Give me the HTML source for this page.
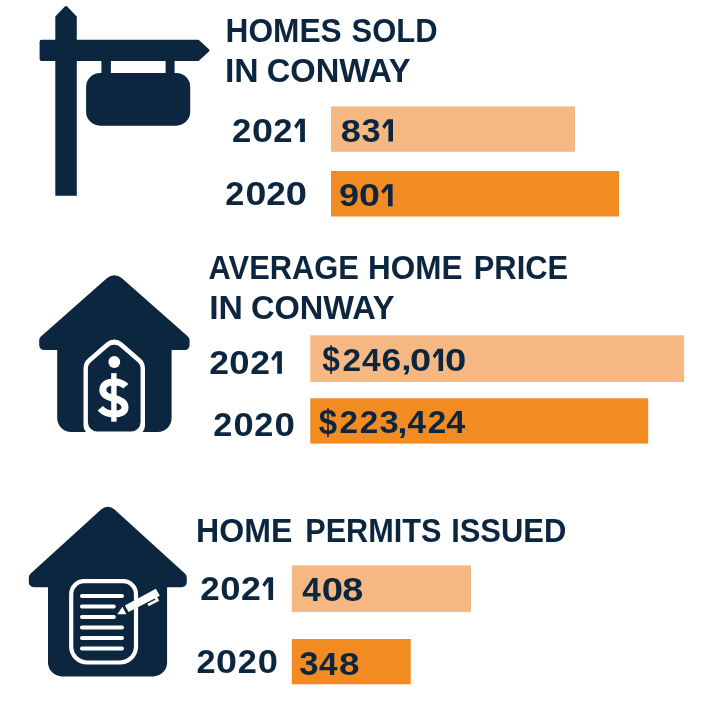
<!DOCTYPE html>
<html><head><meta charset="utf-8"><style>
html,body{margin:0;padding:0;background:#fff;width:707px;height:707px;overflow:hidden}
svg{display:block;will-change:transform}
text{font-family:"Liberation Sans",sans-serif;font-weight:bold}
</style></head><body>
<svg width="707" height="707" viewBox="0 0 707 707">
<path d="M55.30,195.80 L55.30,16.90 A1,1 0 0 1 55.57,16.21 L64.55,6.73 A2,2 0 0 1 67.45,6.72 L76.52,16.21 A1,1 0 0 1 76.80,16.90 L76.80,195.80 Z" fill="#0c263f"/>
<path d="M39.60,41.70 A2,2 0 0 1 41.60,39.70 L198.21,39.70 A1,1 0 0 1 198.89,39.96 L208.99,49.19 A1.5,1.5 0 0 1 208.99,51.41 L198.89,60.64 A1,1 0 0 1 198.21,60.90 L41.60,60.90 A2,2 0 0 1 39.60,58.90 Z" fill="#0c263f"/>
<rect x="101.4" y="60" width="9.5" height="14" fill="#0c263f"/>
<rect x="165.6" y="60" width="9" height="14" fill="#0c263f"/>
<rect x="86.1" y="73" width="104.1" height="52.7" rx="14" fill="#0c263f"/>
<rect x="331" y="106.4" width="244" height="45.4" fill="#f5b883"/>
<rect x="331" y="171" width="288" height="45.5" fill="#f28b21"/>
<rect x="310.3" y="335.3" width="373.8" height="46.7" fill="#f5b883"/>
<rect x="310.3" y="398.3" width="337.9" height="45.3" fill="#f28b21"/>
<rect x="291.8" y="565.4" width="179.2" height="46.7" fill="#f5b883"/>
<rect x="291.8" y="639" width="118.9" height="45.3" fill="#f28b21"/>
<path d="M107.12,278.12 A11,11 0 0 1 121.68,278.12 L187.91,336.53 A5,5 0 0 1 189.60,340.28 L189.60,345.10 A5,5 0 0 1 184.60,350.10 L171.60,350.10 L171.60,418.00 A14,14 0 0 1 157.60,432.00 L71.20,432.00 A14,14 0 0 1 57.20,418.00 L57.20,350.10 L44.20,350.10 A5,5 0 0 1 39.20,345.10 L39.20,340.28 A5,5 0 0 1 40.89,336.53 Z" fill="#0c263f"/>
<path d="M92.80,435.10 A9.3,9.3 0 0 1 83.50,425.80 L83.50,368.30 A13,13 0 0 1 87.99,358.47 L106.39,342.53 A12,12 0 0 1 122.11,342.53 L140.51,358.47 A13,13 0 0 1 145.00,368.30 L145.00,425.80 A9.3,9.3 0 0 1 135.70,435.10 Z" fill="#fff"/>
<path d="M97.40,431.60 A9.5,9.5 0 0 1 87.90,422.10 L87.90,368.83 A9,9 0 0 1 91.01,362.03 L108.36,347.00 A9,9 0 0 1 120.14,347.00 L137.49,362.03 A9,9 0 0 1 140.60,368.83 L140.60,422.10 A9.5,9.5 0 0 1 131.10,431.60 Z" fill="#0c263f"/>
<circle cx="114.3" cy="362" r="5.9" fill="#fff"/>
<rect x="111.2" y="373.1" width="5.4" height="48.6" fill="#fff"/>
<path d="M125.8,386.3 C123,383 118.5,381.9 114,381.9 C107,381.9 102.8,385 102.8,390 C102.8,395 107,397 114,398.5 C121,400 125,402.5 125,407.5 C125,412 120.5,414.1 114,414.1 C108,414.1 103.5,412 100.3,408.3" fill="none" stroke="#fff" stroke-width="7"/>
<path d="M101.07,509.42 A10,10 0 0 1 114.53,509.42 L185.17,573.70 A5,5 0 0 1 186.80,577.40 L186.80,582.20 A5,5 0 0 1 181.80,587.20 L167.10,587.20 L167.10,662.40 A14,14 0 0 1 153.10,676.40 L62.00,676.40 A14,14 0 0 1 48.00,662.40 L48.00,587.20 L33.80,587.20 A5,5 0 0 1 28.80,582.20 L28.80,577.40 A5,5 0 0 1 30.43,573.70 Z" fill="#0c263f"/>
<path d="M71.20,594.20 A13,13 0 0 1 84.20,581.20 L123.00,581.20 A13,13 0 0 1 136.00,594.20 L136.00,646.50 A16,16 0 0 1 120.00,662.50 L87.20,662.50 A16,16 0 0 1 71.20,646.50 Z" fill="none" stroke="#fff" stroke-width="4.2"/>
<line x1="81.9" y1="596" x2="122.1" y2="596" stroke="#fff" stroke-width="3.8" stroke-linecap="round"/>
<line x1="81.9" y1="606.5" x2="113.9" y2="606.5" stroke="#fff" stroke-width="3.8" stroke-linecap="round"/>
<line x1="81.9" y1="617" x2="113.9" y2="617" stroke="#fff" stroke-width="3.8" stroke-linecap="round"/>
<line x1="81.9" y1="627.5" x2="122.1" y2="627.5" stroke="#fff" stroke-width="3.8" stroke-linecap="round"/>
<line x1="81.9" y1="638" x2="122.1" y2="638" stroke="#fff" stroke-width="3.8" stroke-linecap="round"/>
<line x1="81.9" y1="648.5" x2="122.1" y2="648.5" stroke="#fff" stroke-width="3.8" stroke-linecap="round"/>
<polygon points="124.90,605.60 155.90,588.70 159.80,595.80 157.23,597.14 159.17,600.87 148.72,606.33 147.42,603.85 155.40,599.68 154.75,598.44 128.60,612.10" fill="#fff"/>
<polygon points="117.3,614.3 122.4,606.8 126.4,614.3" fill="#fff"/>
<text x="0" y="0" font-size="33.188" fill="#0c263f" transform="translate(225.497,41.9) scale(0.9554,1)">HOMES</text>
<text x="0" y="0" font-size="33.188" fill="#0c263f" transform="translate(351.571,41.9) scale(0.9328,1)">SOLD</text>
<text x="0" y="0" font-size="33.188" fill="#0c263f" transform="translate(224.975,81.9) scale(1.0169,1)">IN</text>
<text x="0" y="0" font-size="33.188" fill="#0c263f" transform="translate(266.693,81.9) scale(0.9843,1)">CONWAY</text>
<text x="0" y="0" font-size="33.429" fill="#0c263f" transform="translate(232.059,141.9) scale(1.0379,1)">2</text>
<text x="0" y="0" font-size="33.429" fill="#0c263f" transform="translate(251.992,141.9) scale(1.1280,1)">0</text>
<text x="0" y="0" font-size="33.429" fill="#0c263f" transform="translate(273.359,141.9) scale(1.0379,1)">2</text>
<polygon points="304.90,118.80 304.90,141.90 300.14,141.90 300.14,123.26 296.34,128.83 294.20,126.10 299.29,118.80" fill="#0c263f"/>
<text x="0" y="0" font-size="32.571" fill="#0c263f" transform="translate(225.371,204.8) scale(1.0526,1)">2</text>
<text x="0" y="0" font-size="32.571" fill="#0c263f" transform="translate(245.400,204.8) scale(1.1513,1)">0</text>
<text x="0" y="0" font-size="32.571" fill="#0c263f" transform="translate(266.347,204.8) scale(1.0777,1)">2</text>
<text x="0" y="0" font-size="32.571" fill="#0c263f" transform="translate(285.675,204.8) scale(1.1705,1)">0</text>
<text x="0" y="0" font-size="32.286" fill="#0c263f" transform="translate(340.814,141.6) scale(1.1212,1)">8</text>
<text x="0" y="0" font-size="32.286" fill="#0c263f" transform="translate(361.512,141.6) scale(1.0655,1)">3</text>
<polygon points="393.00,119.30 393.00,141.60 388.41,141.60 388.41,123.60 384.36,128.98 382.20,126.35 387.54,119.30" fill="#0c263f"/>
<text x="0" y="0" font-size="32.000" fill="#0c263f" transform="translate(339.022,206.3) scale(1.1224,1)">9</text>
<text x="0" y="0" font-size="32.000" fill="#0c263f" transform="translate(358.892,206.3) scale(1.1784,1)">0</text>
<polygon points="392.60,184.20 392.60,206.30 388.05,206.30 388.05,188.47 383.48,193.79 381.20,191.18 387.14,184.20" fill="#0c263f"/>
<text x="0" y="0" font-size="33.188" fill="#0c263f" transform="translate(208.583,278.9) scale(0.9302,1)">AVERAGE</text>
<text x="0" y="0" font-size="33.188" fill="#0c263f" transform="translate(368.113,278.9) scale(0.9474,1)">HOME</text>
<text x="0" y="0" font-size="33.188" fill="#0c263f" transform="translate(473.747,278.9) scale(0.9304,1)">PRICE</text>
<text x="0" y="0" font-size="33.188" fill="#0c263f" transform="translate(209.175,318.8) scale(1.0169,1)">IN</text>
<text x="0" y="0" font-size="33.188" fill="#0c263f" transform="translate(250.896,318.8) scale(0.9822,1)">CONWAY</text>
<text x="0" y="0" font-size="32.571" fill="#0c263f" transform="translate(209.335,373.8) scale(1.0902,1)">2</text>
<text x="0" y="0" font-size="32.571" fill="#0c263f" transform="translate(229.342,373.8) scale(1.1193,1)">0</text>
<text x="0" y="0" font-size="32.571" fill="#0c263f" transform="translate(250.235,373.8) scale(1.0902,1)">2</text>
<polygon points="281.90,351.30 281.90,373.80 277.26,373.80 277.26,355.64 273.26,361.06 271.10,358.41 276.40,351.30" fill="#0c263f"/>
<text x="0" y="0" font-size="32.571" fill="#0c263f" transform="translate(213.371,435.8) scale(1.0526,1)">2</text>
<text x="0" y="0" font-size="32.571" fill="#0c263f" transform="translate(233.450,435.8) scale(1.1129,1)">0</text>
<text x="0" y="0" font-size="32.571" fill="#0c263f" transform="translate(254.371,435.8) scale(1.0526,1)">2</text>
<text x="0" y="0" font-size="32.571" fill="#0c263f" transform="translate(274.533,435.8) scale(1.1257,1)">0</text>
<text x="0" y="0" font-size="100" fill="#0c263f" transform="translate(322.183,371.076) scale(0.31667,0.34634)">$</text>
<text x="0" y="0" font-size="32.000" fill="#0c263f" transform="translate(342.396,370.9) scale(1.0459,1)">2</text>
<text x="0" y="0" font-size="32.000" fill="#0c263f" transform="translate(361.967,370.9) scale(1.0398,1)">4</text>
<text x="0" y="0" font-size="32.000" fill="#0c263f" transform="translate(381.541,370.9) scale(1.1033,1)">6</text>
<text x="0" y="0" font-size="100" fill="#0c263f" transform="translate(401.288,370.106) scale(0.36875,0.28710)">,</text>
<text x="0" y="0" font-size="32.000" fill="#0c263f" transform="translate(409.875,370.9) scale(1.1914,1)">0</text>
<polygon points="443.10,348.80 443.10,370.90 438.55,370.90 438.55,353.07 434.78,358.39 432.70,355.78 437.72,348.80" fill="#0c263f"/>
<text x="0" y="0" font-size="32.000" fill="#0c263f" transform="translate(444.967,370.9) scale(1.1979,1)">0</text>
<text x="0" y="0" font-size="100" fill="#0c263f" transform="translate(318.870,434.441) scale(0.32963,0.35122)">$</text>
<text x="0" y="0" font-size="32.000" fill="#0c263f" transform="translate(339.502,433.4) scale(1.0395,1)">2</text>
<text x="0" y="0" font-size="32.000" fill="#0c263f" transform="translate(359.802,433.4) scale(1.0395,1)">2</text>
<text x="0" y="0" font-size="32.000" fill="#0c263f" transform="translate(379.408,433.4) scale(1.0812,1)">3</text>
<text x="0" y="0" font-size="100" fill="#0c263f" transform="translate(397.463,432.590) scale(0.35625,0.31935)">,</text>
<text x="0" y="0" font-size="32.000" fill="#0c263f" transform="translate(407.567,433.4) scale(1.0398,1)">4</text>
<text x="0" y="0" font-size="32.000" fill="#0c263f" transform="translate(427.702,433.4) scale(1.0395,1)">2</text>
<text x="0" y="0" font-size="32.000" fill="#0c263f" transform="translate(446.158,433.4) scale(1.0682,1)">4</text>
<text x="0" y="0" font-size="32.899" fill="#0c263f" transform="translate(196.074,541.8) scale(0.9756,1)">HOME</text>
<text x="0" y="0" font-size="32.899" fill="#0c263f" transform="translate(305.263,541.8) scale(0.9308,1)">PERMITS</text>
<text x="0" y="0" font-size="32.899" fill="#0c263f" transform="translate(451.144,541.8) scale(0.9404,1)">ISSUED</text>
<text x="0" y="0" font-size="32.714" fill="#0c263f" transform="translate(200.253,599.9) scale(1.0667,1)">2</text>
<text x="0" y="0" font-size="32.714" fill="#0c263f" transform="translate(220.242,599.9) scale(1.1144,1)">0</text>
<text x="0" y="0" font-size="32.714" fill="#0c263f" transform="translate(241.029,599.9) scale(1.0917,1)">2</text>
<polygon points="273.10,577.30 273.10,599.90 268.44,599.90 268.44,581.66 264.46,587.11 262.30,584.44 267.58,577.30" fill="#0c263f"/>
<text x="0" y="0" font-size="32.857" fill="#0c263f" transform="translate(196.571,673.2) scale(1.0435,1)">2</text>
<text x="0" y="0" font-size="32.857" fill="#0c263f" transform="translate(215.992,673.2) scale(1.1476,1)">0</text>
<text x="0" y="0" font-size="32.857" fill="#0c263f" transform="translate(237.671,673.2) scale(1.0435,1)">2</text>
<text x="0" y="0" font-size="32.857" fill="#0c263f" transform="translate(257.750,673.2) scale(1.1033,1)">0</text>
<text x="0" y="0" font-size="32.714" fill="#0c263f" transform="translate(302.167,600.9) scale(1.0171,1)">4</text>
<text x="0" y="0" font-size="32.714" fill="#0c263f" transform="translate(321.667,600.9) scale(1.1718,1)">0</text>
<text x="0" y="0" font-size="32.714" fill="#0c263f" transform="translate(342.366,600.9) scale(1.1555,1)">8</text>
<text x="0" y="0" font-size="32.286" fill="#0c263f" transform="translate(299.308,674.8) scale(1.0717,1)">3</text>
<text x="0" y="0" font-size="32.286" fill="#0c263f" transform="translate(318.967,674.8) scale(1.0306,1)">4</text>
<text x="0" y="0" font-size="32.286" fill="#0c263f" transform="translate(338.896,674.8) scale(1.1398,1)">8</text>
</svg>
</body></html>
